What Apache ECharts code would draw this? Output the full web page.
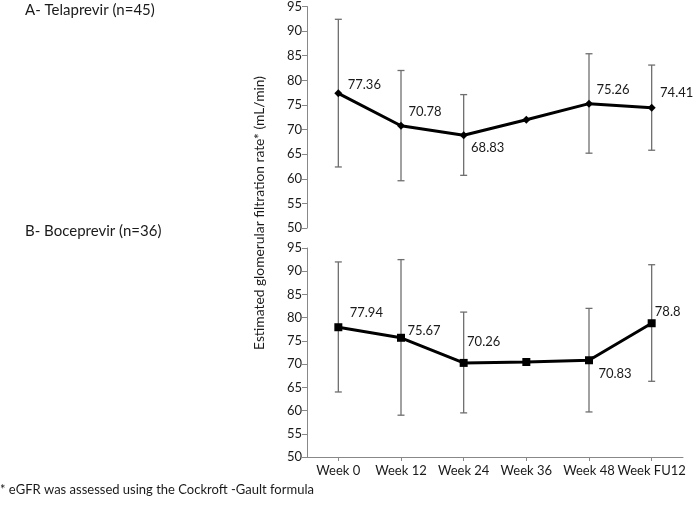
<!DOCTYPE html>
<html><head><meta charset="utf-8">
<script src="https://cdn.jsdelivr.net/npm/echarts@6/dist/echarts.min.js"></script>
<style>html,body{margin:0;padding:0;background:#fff}#c{width:693px;height:508px}</style>
</head><body><div id="c"></div>
<script>
// ---- data ----
const categories = ['Week 0', 'Week 12', 'Week 24', 'Week 36', 'Week 48', 'Week FU12'];
const telaprevirMean = [77.36, 70.78, 68.83, 72.0, 75.26, 74.41];
const telaprevirLow  = [62.4, 59.6, 60.7, null, 65.2, 65.8];
const telaprevirHigh = [92.4, 82.0, 77.1, null, 85.4, 83.1];
const telaprevirLabels = ['77.36', '70.78', '68.83', '', '75.26', '74.41'];
const boceprevirMean = [77.94, 75.67, 70.26, 70.45, 70.83, 78.8];
const boceprevirLow  = [64.0, 59.0, 59.5, null, 59.7, 66.3];
const boceprevirHigh = [92.0, 92.5, 81.2, null, 82.0, 91.4];
const boceprevirLabels = ['77.94', '75.67', '70.26', '', '70.83', '78.8'];
const yMin = 50, yMax = 95, yInterval = 5;
const titleA = 'A- Telaprevir (n=45)';
const titleB = 'B- Boceprevir (n=36)';
const yAxisName = 'Estimated glomerular filtration rate* (mL/min)';
const footnote = '* eGFR was assessed using the Cockroft -Gault formula';

// ---- styling (label offsets in px) ----
const topOffsets = [[26, -9], [24, -14], [24, 12], [0, 0], [24, -14], [25, -15]];
const bottomOffsets = [[28, -14], [23, -7], [20, -21], [0, 0], [26, 14], [16, -11]];
const FONT = 'Lato, "Open Sans", sans-serif';
const TXT = '#1a1a1a';

function lineData(mean, labels, offsets) {
  return mean.map((v, i) => ({
    value: v,
    label: { show: labels[i] !== '', offset: offsets[i], formatter: labels[i] }
  }));
}
function errData(low, high) {
  const out = [];
  low.forEach((l, i) => { if (l != null && high[i] != null) out.push([i, l, high[i]]); });
  return out;
}
function errRender(params, api) {
  const x = api.value(0);
  const a = api.coord([x, api.value(1)]);
  const b = api.coord([x, api.value(2)]);
  const w = 3.5;
  const st = { stroke: '#6f6f6f', lineWidth: 1.3 };
  return {
    type: 'group',
    children: [
      { type: 'line', shape: { x1: a[0], y1: a[1], x2: b[0], y2: b[1] }, style: st },
      { type: 'line', shape: { x1: a[0] - w, y1: a[1], x2: a[0] + w, y2: a[1] }, style: st },
      { type: 'line', shape: { x1: b[0] - w, y1: b[1], x2: b[0] + w, y2: b[1] }, style: st }
    ]
  };
}
function yAx(idx) {
  return {
    gridIndex: idx, type: 'value', min: yMin, max: yMax, interval: yInterval,
    axisLine: { show: true, lineStyle: { color: '#888', width: 1 } },
    axisTick: { show: true, length: 5, lineStyle: { color: '#888' } },
    axisLabel: { color: TXT, fontSize: 13, fontFamily: FONT, margin: 5 },
    splitLine: { show: false }
  };
}
const chart = echarts.init(document.getElementById('c'), null, { renderer: 'canvas' });
chart.setOption({
  animation: false,
  backgroundColor: '#fff',
  textStyle: { fontFamily: FONT },
  grid: [
    { left: 307, top: 4, width: 376, height: 224 },
    { left: 307, top: 248, width: 376, height: 209 }
  ],
  xAxis: [
    { gridIndex: 0, type: 'category', data: categories, boundaryGap: true,
      axisLine: { show: false }, axisTick: { show: false }, axisLabel: { show: false } },
    { gridIndex: 1, type: 'category', data: categories, boundaryGap: true,
      axisLine: { show: true, lineStyle: { color: '#888' } },
      axisTick: { show: true, alignWithLabel: true, interval: 0, length: 4, lineStyle: { color: '#888' } },
      axisLabel: { color: TXT, fontSize: 13, fontFamily: FONT, margin: 7, interval: 0 } }
  ],
  yAxis: [yAx(0), yAx(1)],
  graphic: [
    { type: 'text', left: 25, top: 3, style: { text: titleA, font: '15px ' + FONT, fill: TXT } },
    { type: 'text', left: 25, top: 224, style: { text: titleB, font: '15px ' + FONT, fill: TXT } },
    { type: 'text', left: 0, top: 483, style: { text: footnote, font: '13px ' + FONT, fill: TXT } },
    { type: 'text', x: 260, y: 213, rotation: Math.PI / 2,
      style: { text: yAxisName, font: '13.8px ' + FONT, fill: TXT, align: 'center', verticalAlign: 'middle' } }
  ],
  series: [
    { type: 'custom', xAxisIndex: 0, yAxisIndex: 0, renderItem: errRender,
      data: errData(telaprevirLow, telaprevirHigh), z: 1, silent: true },
    { type: 'custom', xAxisIndex: 1, yAxisIndex: 1, renderItem: errRender,
      data: errData(boceprevirLow, boceprevirHigh), z: 1, silent: true },
    { type: 'line', xAxisIndex: 0, yAxisIndex: 0, z: 3,
      data: lineData(telaprevirMean, telaprevirLabels, topOffsets),
      symbol: 'diamond', symbolSize: 8, showAllSymbol: true,
      lineStyle: { color: '#000', width: 3 }, itemStyle: { color: '#000' },
      label: { show: true, position: 'inside', color: TXT, fontSize: 13, fontFamily: FONT } },
    { type: 'line', xAxisIndex: 1, yAxisIndex: 1, z: 3,
      data: lineData(boceprevirMean, boceprevirLabels, bottomOffsets),
      symbol: 'rect', symbolSize: 8, showAllSymbol: true,
      lineStyle: { color: '#000', width: 3 }, itemStyle: { color: '#000' },
      label: { show: true, position: 'inside', color: TXT, fontSize: 13, fontFamily: FONT } }
  ]
});
</script></body></html>
